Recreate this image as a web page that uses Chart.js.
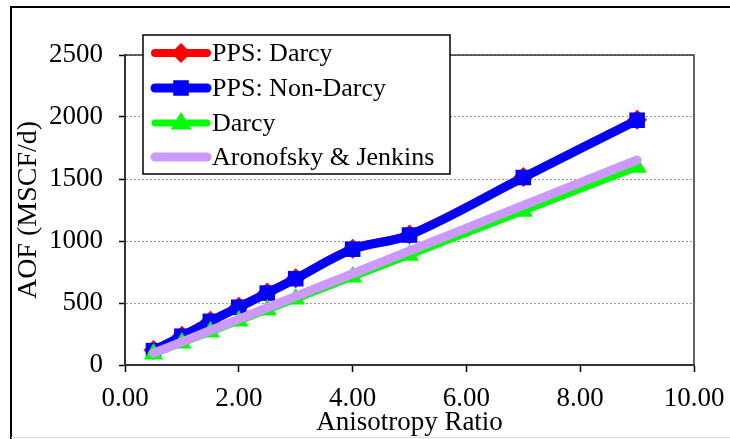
<!DOCTYPE html>
<html>
<head>
<meta charset="utf-8">
<script src="https://cdn.jsdelivr.net/npm/chart.js@4/dist/chart.umd.min.js"></script>
<style>
html,body{margin:0;padding:0;background:#fff;}
#wrap{width:730px;height:439px;position:relative;}
</style>
</head>
<body>
<div id="wrap"><canvas id="c" width="730" height="439"></canvas></div>
<script>
const anisotropyRatio = [0.5, 1, 1.5, 2, 2.5, 3, 4, 5, 7, 9];
const ppsDarcy    = [120, 236, 356, 470, 584, 700, 938, 1052, 1516, 1978];
const ppsNonDarcy = [116, 232, 352, 466, 580, 696, 934, 1048, 1512, 1974];
const darcy       = [88, 177, 266, 354, 443, 532, 709, 886, 1240, 1594];
const aronofsky   = [96, 187, 279, 370, 462, 553, 736, 920, 1287, 1653];
const seriesNames = ["PPS: Darcy", "PPS: Non-Darcy", "Darcy", "Aronofsky & Jenkins"];
const xTicks = [0, 2, 4, 6, 8, 10];
const yTicks = [0, 500, 1000, 1500, 2000, 2500];

const FONT = "'Liberation Serif', 'Times New Roman', serif";

function pts(vals){ return anisotropyRatio.map((x,i)=>({x:x, y:vals[i]})); }

function drawMarker(ctx, style, x, y, r, color){
  ctx.save();
  ctx.fillStyle = color;
  ctx.beginPath();
  if(style === 'rectRot'){
    ctx.moveTo(x, y-r); ctx.lineTo(x+r, y); ctx.lineTo(x, y+r); ctx.lineTo(x-r, y);
  } else if(style === 'rect'){
    const s = r*Math.SQRT1_2;
    ctx.rect(x-s, y-s, 2*s, 2*s);
  } else if(style === 'triangle'){
    ctx.moveTo(x, y-r); ctx.lineTo(x+r*0.95, y+r*0.6); ctx.lineTo(x-r*0.95, y+r*0.6);
  }
  ctx.closePath();
  ctx.fill();
  ctx.restore();
}

const frameLegend = {
  id: 'frameLegend',
  afterDraw(chart){
    const ctx = chart.ctx;
    const a = chart.chartArea;
    ctx.save();
    ctx.strokeStyle = '#333';
    ctx.lineWidth = 1.5;
    ctx.beginPath();
    ctx.moveTo(a.left, a.top); ctx.lineTo(a.right, a.top); ctx.lineTo(a.right, a.bottom);
    ctx.stroke();
    ctx.strokeStyle = '#000';
    ctx.lineWidth = 2;
    ctx.beginPath();
    ctx.moveTo(11, 439); ctx.lineTo(11, 7); ctx.lineTo(730, 7);
    ctx.stroke();
    ctx.strokeStyle = '#ddd';
    ctx.lineWidth = 1;
    ctx.beginPath();
    ctx.moveTo(11, 437.5); ctx.lineTo(730, 437.5);
    ctx.stroke();
    const bx = 143, by = 35, bw = 307, bh = 139;
    ctx.fillStyle = '#fff';
    ctx.fillRect(bx, by, bw, bh);
    ctx.strokeStyle = '#000';
    ctx.lineWidth = 1.5;
    ctx.strokeRect(bx, by, bw, bh);
    const rows = [53, 88, 123, 157];
    chart.data.datasets.forEach((ds, i) => {
      const y = rows[i];
      ctx.strokeStyle = ds.borderColor;
      ctx.lineWidth = ds.borderWidth;
      ctx.lineCap = 'round';
      ctx.beginPath();
      ctx.moveTo(155, y); ctx.lineTo(207, y);
      ctx.stroke();
      if(ds.pointRadius > 0){
        drawMarker(ctx, ds.pointStyle, 181, y, ds.pointRadius, ds.pointBackgroundColor);
      }
      ctx.fillStyle = '#000';
      ctx.font = '26px ' + FONT;
      ctx.textAlign = 'left';
      ctx.textBaseline = 'middle';
      ctx.fillText(ds.label, 212, y + 1);
    });
    ctx.restore();
  }
};

new Chart(document.getElementById('c'), {
  type: 'line',
  data: {
    datasets: [
      { label: seriesNames[0], data: pts(ppsDarcy), borderColor: '#FF0000', backgroundColor: '#FF0000',
        pointBackgroundColor: '#FF0000', pointBorderWidth: 0, borderWidth: 8, pointStyle: 'rectRot', pointRadius: 10,
        tension: 0.35, order: 3 },
      { label: seriesNames[1], data: pts(ppsNonDarcy), borderColor: '#0000FF', backgroundColor: '#0000FF',
        pointBackgroundColor: '#0000FF', pointBorderWidth: 0, borderWidth: 9, pointStyle: 'rect', pointRadius: 11,
        tension: 0.35, order: 2 },
      { label: seriesNames[2], data: pts(darcy), borderColor: '#00FF00', backgroundColor: '#00FF00',
        pointBackgroundColor: '#00FF00', pointBorderWidth: 0, borderWidth: 7, pointStyle: 'triangle', pointRadius: 11,
        tension: 0, order: 1 },
      { label: seriesNames[3], data: pts(aronofsky), borderColor: '#CC99FF', backgroundColor: '#CC99FF',
        pointBackgroundColor: '#CC99FF', borderWidth: 9, pointRadius: 0, borderCapStyle: 'round',
        tension: 0, order: 0 }
    ]
  },
  options: {
    responsive: false,
    animation: false,
    events: [],
    layout: { padding: { left: 0, right: 36, top: 55, bottom: 0 } },
    plugins: { legend: { display: false }, tooltip: { enabled: false }, title: { display: false } },
    scales: {
      x: {
        type: 'linear', min: 0, max: 10,
        afterFit(s){ s.height = 74; },
        afterBuildTicks(s){ s.ticks = xTicks.map(v => ({value: v})); },
        ticks: { color: '#000', font: { family: FONT, size: 27, lineHeight: 1.6 }, padding: 5,
                 callback: v => Number(v).toFixed(2), maxRotation: 0, autoSkip: false },
        grid: { drawOnChartArea: false, drawTicks: true, tickLength: 7, tickColor: '#000', tickWidth: 1.5 },
        border: { color: '#333', width: 2 },
        title: { display: true, text: 'Anisotropy Ratio', color: '#000',
                 font: { family: FONT, size: 27 }, padding: { top: 0, bottom: 0 } }
      },
      y: {
        type: 'linear', min: 0, max: 2500,
        afterFit(s){ s.width = 125; },
        afterBuildTicks(s){ s.ticks = yTicks.map(v => ({value: v})); },
        ticks: { color: '#000', font: { family: FONT, size: 27 }, padding: 16, callback: v => String(v) },
        grid: { color: '#999', lineWidth: 1, drawTicks: true, tickLength: 6, tickColor: '#000', tickWidth: 1.5,
                tickBorderDash: [] },
        border: { color: '#333', width: 2, dash: [2, 2] },
        title: { display: true, text: 'AOF (MSCF/d)', color: '#000',
                 font: { family: FONT, size: 28 }, padding: { top: 12, bottom: 0 } }
      }
    }
  },
  plugins: [frameLegend]
});
</script>
</body>
</html>
